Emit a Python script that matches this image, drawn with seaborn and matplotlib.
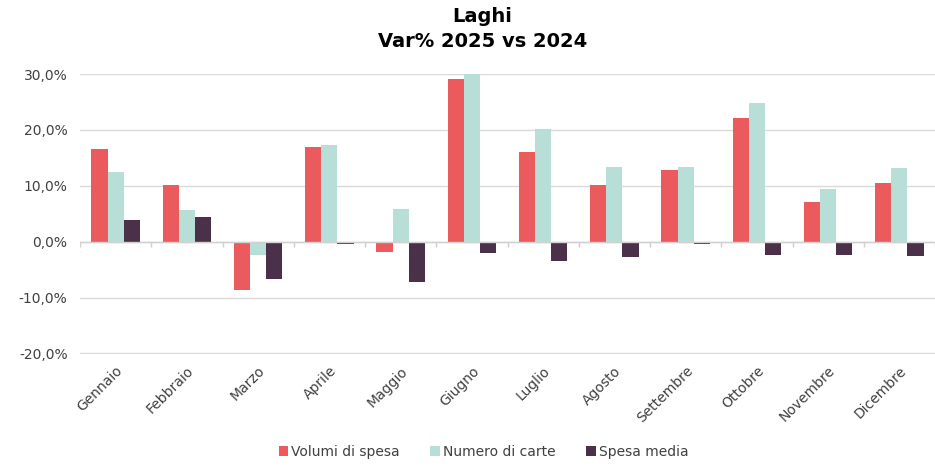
import matplotlib
matplotlib.use("Agg")
import matplotlib.pyplot as plt
import matplotlib.transforms as mtransforms
from matplotlib.patches import Patch
import seaborn as sns
import pandas as pd

mesi = ["Gennaio", "Febbraio", "Marzo", "Aprile", "Maggio", "Giugno",
        "Luglio", "Agosto", "Settembre", "Ottobre", "Novembre", "Dicembre"]
volumi_di_spesa = [16.6, 10.2, -8.7, 17.0, -1.9, 29.1, 16.1, 10.2, 12.9, 22.2, 7.1, 10.5]
numero_di_carte = [12.4, 5.6, -2.3, 17.3, 5.8, 30.0, 20.2, 13.3, 13.4, 24.9, 9.5, 13.2]
spesa_media = [3.8, 4.4, -6.7, -0.4, -7.3, -2.1, -3.5, -2.8, -0.5, -2.3, -2.3, -2.5]
serie = ["Volumi di spesa", "Numero di carte", "Spesa media"]
colori = ["#EB5B5E", "#B8DFD7", "#4B3049"]

df = pd.DataFrame({
    "Mese": mesi * 3,
    "Serie": [serie[0]] * 12 + [serie[1]] * 12 + [serie[2]] * 12,
    "Valore": volumi_di_spesa + numero_di_carte + spesa_media,
})

sns.set_theme(style="white")
plt.rcParams["font.family"] = ["DejaVu Sans"]

fig = plt.figure(figsize=(9.35, 4.66), dpi=100)
ax = fig.add_axes([0.0856, 0.2403, 0.9144, 0.6009])

sns.barplot(data=df, x="Mese", y="Valore", hue="Serie", order=mesi,
            hue_order=serie, palette=colori, width=0.68, saturation=1,
            linewidth=0, legend=False, ax=ax)

ax.set_ylim(-20.1, 30)
ax.set_xlim(-0.5, len(mesi) - 0.5)
ax.set_yticks([-20, -10, 0, 10, 20, 30])
ax.set_yticklabels([f"{v:.1f}%".replace(".", ",") for v in [-20, -10, 0, 10, 20, 30]],
                   fontsize=10, color="#404040")
ax.yaxis.grid(True, color="#D9D9D9", linewidth=1)
ax.set_axisbelow(True)
for s in ax.spines.values():
    s.set_visible(False)
ax.tick_params(axis="y", length=0, pad=9)
ax.tick_params(axis="x", length=0, pad=7)
ax.set_xlabel("")
ax.set_ylabel("")
plt.setp(ax.get_xticklabels(), rotation=45, ha="right", rotation_mode="anchor",
         fontsize=10, color="#404040")

# zero axis with category boundary ticks
ax.axhline(0, color="#D0D0D0", linewidth=1, zorder=1)
bordi = [i - 0.5 for i in range(len(mesi) + 1)]
trans = mtransforms.blended_transform_factory(ax.transData, ax.transData)
ax.vlines(bordi, -0.9, 0, color="#D0D0D0", linewidth=1, transform=trans, zorder=1)

fig.text(0.516, 0.985, "Laghi", ha="center", va="top", fontsize=14,
         fontweight="heavy", color="#000000")
fig.text(0.516, 0.932, "Var% 2025 vs 2024", ha="center", va="top", fontsize=14,
         fontweight="heavy", color="#000000")

handles = [Patch(facecolor=c, edgecolor="none", label=l) for c, l in zip(colori, serie)]
fig.legend(handles=handles, loc="center", bbox_to_anchor=(0.517, 0.03), ncol=3,
           frameon=False, fontsize=10, handlelength=0.7, handleheight=0.7,
           handletextpad=0.2, columnspacing=2.2, labelcolor="#404040")

fig.savefig("out.png", dpi=100)
